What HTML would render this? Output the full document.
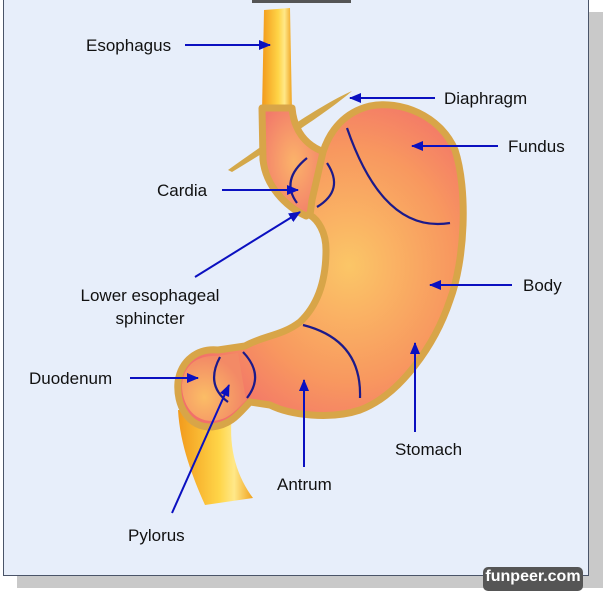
<!DOCTYPE html>
<html><head><meta charset="utf-8"><style>
html,body{margin:0;padding:0;background:#fff;}
body{width:603px;height:588px;position:relative;overflow:hidden;font-family:"Liberation Sans",sans-serif;}
.shadow{position:absolute;left:17px;top:12px;width:586px;height:576px;background:#c9c9c9;}
.panel{position:absolute;left:3px;top:-2px;width:584px;height:576px;background:#e7eefa;border:1px solid #4a5468;}
.tab{position:absolute;left:252px;top:0;width:99px;height:3px;background:#555;}
.wm{position:absolute;left:483px;top:567px;width:100px;height:24px;background:#555;border-radius:5px;color:#fff;font-weight:bold;font-size:16px;text-align:center;line-height:20px;}
svg{position:absolute;left:0;top:0;}
</style></head><body>
<div class="shadow"></div>
<div class="panel"></div>
<div class="tab"></div>
<svg width="603" height="588" viewBox="0 0 603 588">
<defs>
<radialGradient id="st" cx="0.6" cy="0.5" r="0.6">
<stop offset="0" stop-color="#fbc667"/><stop offset="0.6" stop-color="#f8985f"/><stop offset="1" stop-color="#f2706a"/>
</radialGradient>
<radialGradient id="pk" cx="0.5" cy="0.5" r="0.6">
<stop offset="0" stop-color="#fbb36a"/><stop offset="1" stop-color="#f27a6a"/>
</radialGradient>
<radialGradient id="du" cx="0.35" cy="0.65" r="0.6">
<stop offset="0" stop-color="#fbbd66"/><stop offset="1" stop-color="#f38a66"/>
</radialGradient>
<linearGradient id="es" x1="0" x2="1" y1="0" y2="0">
<stop offset="0" stop-color="#f29a1c"/><stop offset="0.55" stop-color="#ffd548"/><stop offset="0.75" stop-color="#ffe888"/><stop offset="1" stop-color="#f0a21e"/>
</linearGradient>
<marker id="ah" markerWidth="12" markerHeight="10" refX="11" refY="5" orient="auto" markerUnits="userSpaceOnUse">
<path d="M0,0 L12,5 L0,10 Z" fill="#0b10c0"/>
</marker>
</defs>
<path d="M228,170 C270,140 320,105 352,91 C330,110 285,140 232,172 Z" fill="#d4a84a"/>
<path d="M264,10 L290,8 L292,112 L262,112 Z" fill="url(#es)"/>
<path d="M178,410 C180,445 193,478 205,505 L253,498 C238,478 228,450 232,415 Z" fill="url(#es)"/>
<path d="M262,108 L292,108 C294,130 305,145 324,152 L326,205 L306,216 C285,206 266,186 263,160 Z" fill="url(#pk)" stroke="#d8a548" stroke-width="7" stroke-linejoin="round"/>
<path d="M323,152 C330,130 345,112 370,106 C400,100 440,115 455,150 C468,190 465,260 450,300 C435,345 400,395 360,410 C330,420 290,415 270,405 L250,402 C240,412 232,425 212,427 C188,428 176,405 178,382 C181,360 198,348 218,350 L245,346 C262,336 282,336 300,322 C318,305 326,280 326,250 C326,232 318,220 310,215 L312,200 Z" fill="url(#st)" stroke="#d8a548" stroke-width="7" stroke-linejoin="round"/>
<path d="M182,385 C184,364 198,355 218,356 L238,353 L246,400 C236,410 229,420 212,421 C193,421 182,404 182,385 Z" fill="url(#du)"/>
<g fill="none" stroke="#1c1a8a" stroke-width="2.2">
<path d="M347,128 C365,180 395,232 450,223"/>
<path d="M303,325 Q362,340 360,398"/>
<path d="M220,357 Q205,385 228,402"/>
<path d="M243,352 Q265,375 247,398"/>
<path d="M307,158 Q280,180 297,203"/>
<path d="M327,163 Q345,190 317,207"/>
</g>
<g stroke="#0b10c0" stroke-width="2" marker-end="url(#ah)">
<line x1="185" y1="45" x2="270" y2="45"/>
<line x1="435" y1="98" x2="350" y2="98"/>
<line x1="498" y1="146" x2="412" y2="146"/>
<line x1="222" y1="190" x2="298" y2="190"/>
<line x1="195" y1="277" x2="300" y2="212"/>
<line x1="512" y1="285" x2="430" y2="285"/>
<line x1="130" y1="378" x2="198" y2="378"/>
<line x1="415" y1="432" x2="415" y2="343"/>
<line x1="304" y1="467" x2="304" y2="380"/>
<line x1="172" y1="513" x2="229" y2="385"/>
</g>
<g font-family="Liberation Sans, sans-serif" font-size="17" fill="#111">
<text x="86" y="51">Esophagus</text>
<text x="444" y="104">Diaphragm</text>
<text x="508" y="152">Fundus</text>
<text x="157" y="196">Cardia</text>
<text x="150" y="301" text-anchor="middle">Lower esophageal</text>
<text x="150" y="324" text-anchor="middle">sphincter</text>
<text x="523" y="291">Body</text>
<text x="29" y="384">Duodenum</text>
<text x="395" y="455">Stomach</text>
<text x="277" y="490">Antrum</text>
<text x="128" y="541">Pylorus</text>
</g>
</svg>
<div class="wm">funpeer.com</div>
</body></html>
